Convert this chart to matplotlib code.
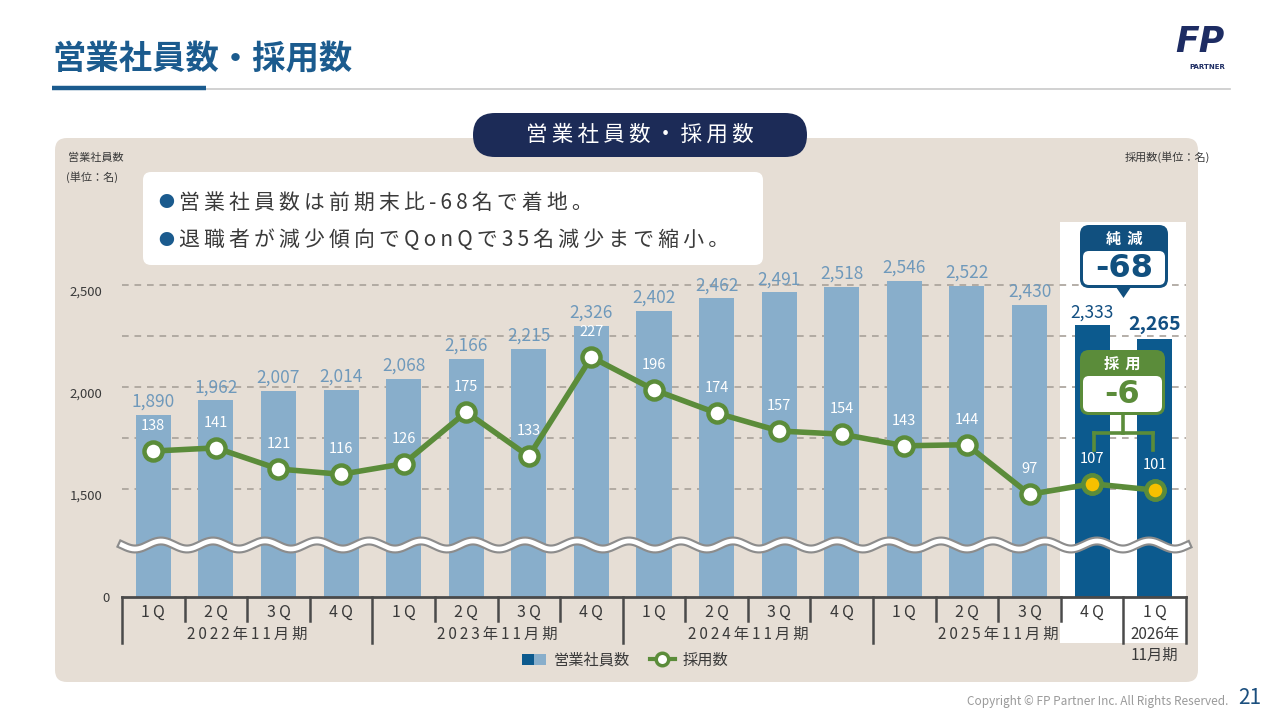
import matplotlib
matplotlib.use("Agg")
import matplotlib.pyplot as plt
import matplotlib.transforms as mtransforms
from matplotlib.patches import FancyBboxPatch, Rectangle, Polygon, Patch
from matplotlib.lines import Line2D
from matplotlib.legend_handler import HandlerTuple
import numpy as np

plt.rcParams['font.family'] = ['Noto Sans CJK JP', 'DejaVu Sans']

# ---------------- data ----------------
employees = [1890, 1962, 2007, 2014, 2068, 2166, 2215, 2326, 2402, 2462, 2491,
             2518, 2546, 2522, 2430, 2333, 2265]
hires = [138, 141, 121, 116, 126, 175, 133, 227, 196, 174, 157, 154, 143, 144,
         97, 107, 101]
quarters = ['1Q', '2Q', '3Q', '4Q', '1Q', '2Q', '3Q', '4Q', '1Q', '2Q', '3Q',
            '4Q', '1Q', '2Q', '3Q', '4Q', '1Q']
fiscal_years = ['2022年11月期', '2023年11月期', '2024年11月期', '2025年11月期']
fy_groups = [(0, 3), (4, 7), (8, 11), (12, 15)]
last_fy = ['2026年', '11月期']
yticks = [1500, 2000, 2500]
ytick_labels = ['1,500', '2,000', '2,500']
grid_vals = [1500, 1750, 2000, 2250, 2500]
bullets = ['営業社員数は前期末比-68名で着地。',
           '退職者が減少傾向でQonQで35名減少まで縮小。']
net_change = '-68'
hire_change = '-6'
n_highlight = 2

# ---------------- colours ----------------
BG = '#e6ded5'
LIGHT = '#88aecb'
DARK = '#0c5a8e'
NAVY = '#1c2b57'
GREEN = '#5b8c3a'
YELLOW = '#f6c000'
TITLE = '#1b5b8e'
VAL = '#6f99bb'
TXT = '#3a3a3a'
CALLNAVY = '#11507f'

fig = plt.figure(figsize=(12.8, 7.2), dpi=100)
fig.patch.set_facecolor('white')


def X(px):
    return px / 1280


def Y(py):
    return 1 - py / 720


def sp(s):
    return '\u2009'.join(s)


def overlay(z):
    a = fig.add_axes([0, 0, 1, 1], zorder=z)
    a.set_xlim(0, 1280)
    a.set_ylim(720, 0)
    a.axis('off')
    a.set_facecolor('none')
    return a


bg = overlay(-5)
fg = overlay(10)

# ---------------- header ----------------
bg.text(52, 60, '営業社員数・採用数', fontsize=24, fontweight='bold',
        color=TITLE, va='center', ha='left')
bg.plot([205, 1230], [88.5, 88.5], color='#c9c9c9', lw=1.2)
bg.plot([52, 206], [88, 88], color=TITLE, lw=3.2, solid_capstyle='butt')
# logo
bg.text(1200, 42, 'FP', fontsize=25, fontweight='bold', fontstyle='italic',
        color='#1d2c63', ha='center', va='center', family='DejaVu Sans')
bg.text(1207, 67, 'PARTNER', fontsize=5, fontweight='bold',
        color='#1d2c63', ha='center', va='center', family='DejaVu Sans')

# ---------------- panel ----------------
bg.add_patch(FancyBboxPatch((55, 138), 1198 - 55, 682 - 138,
                            boxstyle='round,pad=0,rounding_size=12',
                            facecolor=BG, edgecolor='none', zorder=0))
bg.add_patch(Rectangle((1060, 222), 1186 - 1060, 643 - 222,
                       facecolor='white', edgecolor='none', zorder=1))

# pill title
bg.add_patch(FancyBboxPatch((473, 113), 807 - 473, 157 - 113,
                            boxstyle='round,pad=0,rounding_size=22',
                            facecolor=NAVY, edgecolor='none', zorder=2))
bg.text(640, 135, sp('営業社員数・採用数'), fontsize=15.5, color='white',
        ha='center', va='center', zorder=3)

bg.text(68, 158, '営業社員数', fontsize=8, color=TXT, ha='left', va='center')
bg.text(66, 177, '(単位：名)', fontsize=8, color=TXT, ha='left', va='center')
bg.text(1210, 157, '採用数(単位：名)', fontsize=8, color=TXT, ha='right', va='center')

# bullet box
bg.add_patch(FancyBboxPatch((143, 172), 763 - 143, 265 - 172,
                            boxstyle='round,pad=0,rounding_size=8',
                            facecolor='white', edgecolor='none', zorder=2))
for i, b in enumerate(bullets):
    yy = 203 + i * 37
    bg.text(158, yy, '●', fontsize=11.5, color=TITLE, ha='left', va='center', zorder=3)
    bg.text(179, yy, sp(b), fontsize=15, color=TXT, ha='left', va='center', zorder=3)

# ---------------- axes ----------------
n = len(employees)
x = np.arange(n)
ax = fig.add_axes([X(122), Y(545), X(1186) - X(122), (545 - 222) / 720], zorder=0)
axb = fig.add_axes([X(122), Y(597), X(1186) - X(122), (597 - 545) / 720], zorder=0)
for a in (ax, axb):
    a.set_facecolor('none')
    a.set_xlim(-0.5, n - 0.5)
    for s in a.spines.values():
        s.set_visible(False)
    a.set_xticks([])

ax.set_ylim(1253, 2836)
axb.set_ylim(0, 100)

colors = [LIGHT] * (n - n_highlight) + [DARK] * n_highlight
ax.bar(x, employees, width=0.56, color=colors, zorder=2)
axb.bar(x, employees, width=0.56, color=colors, zorder=2)

gtrans = mtransforms.offset_copy(ax.get_yaxis_transform(), x=0, y=6, units='dots')
for v in grid_vals:
    ax.plot([0, 1], [v, v], transform=gtrans, color='#a8a199', lw=1.2,
            dashes=(4, 3.5), zorder=1)

ax.set_yticks(yticks)
ax.set_yticklabels(ytick_labels, fontsize=9.5, color=TXT)
ax.tick_params(axis='y', length=0, pad=14)
axb.set_yticks([0])
axb.set_yticklabels(['0'], fontsize=9.5, color=TXT)
axb.tick_params(axis='y', length=0, pad=9)

for i, v in enumerate(employees):
    if i == n - 1:
        ax.annotate(f'{v:,}', (i, v), xytext=(0, 3), textcoords='offset points',
                    ha='center', va='bottom', fontsize=14, fontweight='bold', color='#124f82')
    elif i >= n - n_highlight:
        ax.annotate(f'{v:,}', (i, v), xytext=(0, 2), textcoords='offset points',
                    ha='center', va='bottom', fontsize=12.5, color='#124f82')
    else:
        ax.annotate(f'{v:,}', (i, v), xytext=(0, 3), textcoords='offset points',
                    ha='center', va='bottom', fontsize=12.5, color=VAL)

# hires line
ax2 = ax.twinx()
ax2.set_ylim(49, 355)
ax2.set_facecolor('none')
for s in ax2.spines.values():
    s.set_visible(False)
ax2.set_yticks([])
ax2.plot(x, hires, color=GREEN, lw=4, marker='o', ms=13, mfc='white', mec=GREEN,
         mew=3.2, zorder=3)
ax2.plot(x[-n_highlight:], hires[-n_highlight:], ls='none', marker='o', ms=13,
         mfc=YELLOW, mec=GREEN, mew=3.2, zorder=4)
for i, v in enumerate(hires):
    ax2.annotate(str(v), (i, v), xytext=(0, 18), textcoords='offset points',
                 ha='center', va='center', fontsize=10.5, color='white')

# x axis
axb.axhline(0, color='#4a4a4a', lw=2, zorder=5, clip_on=False)
btrans = mtransforms.blended_transform_factory(axb.transData, fig.transFigure)
long_idx = {0, 4, 8, 12, 16, 17}
for i in range(n + 1):
    bottom = 643 if i in long_idx else 621
    axb.plot([i - 0.5, i - 0.5], [Y(597), Y(bottom)], transform=btrans,
             color='#4a4a4a', lw=1.8, clip_on=False)
for i, q in enumerate(quarters):
    axb.text(i, Y(612), sp(q), transform=btrans, ha='center', va='center',
             fontsize=11.5, color=TXT)
for lab, (a0, a1) in zip(fiscal_years, fy_groups):
    axb.text((a0 + a1) / 2, Y(634), sp(lab), transform=btrans, ha='center',
             va='center', fontsize=11, color=TXT)
axb.text(n - 1, Y(634), last_fy[0], transform=btrans, ha='center', va='center',
         fontsize=11, color=TXT)
axb.text(n - 1, Y(655), last_fy[1], transform=btrans, ha='center', va='center',
         fontsize=11, color=TXT)

# wave break
wx = np.linspace(122, 1187, 500)
wy = 545 + 4 * np.sin(2 * np.pi * (wx - 122) / 52)
fg.plot(wx, wy, color='#8c8c8c', lw=6.5, zorder=1)
fg.plot(wx, wy, color='white', lw=3.4, zorder=1.1)


# ---------------- callouts ----------------
def callout(x0, x1, y0, ymid, y1, color, head, value):
    fg.add_patch(FancyBboxPatch((x0, y0), x1 - x0, y1 - y0,
                                boxstyle='round,pad=0,rounding_size=9',
                                facecolor=color, edgecolor='none', zorder=3))
    fg.add_patch(FancyBboxPatch((x0 + 3, ymid), x1 - x0 - 6, y1 - 3 - ymid,
                                boxstyle='round,pad=0,rounding_size=6',
                                facecolor='white', edgecolor='none', zorder=3.1))
    cx = (x0 + x1) / 2
    fg.text(cx, (y0 + ymid) / 2 + 0.5, head, fontsize=11, fontweight='bold',
            color='white', ha='center', va='center', zorder=4)
    fg.text(cx, (ymid + y1) / 2 - 1, value, fontsize=23, fontweight='bold',
            color=color, ha='center', va='center', zorder=4, family='DejaVu Sans')


callout(1080, 1168, 225, 251, 288, CALLNAVY, '純\u2009\u2009減', net_change)
fg.add_patch(Polygon([[1116, 287], [1131, 287], [1123.5, 298]], closed=True,
                     facecolor=CALLNAVY, edgecolor='none', zorder=3))
callout(1080, 1165, 350, 376, 415, GREEN, '採\u2009\u2009用', hire_change)
for (xa, ya), (xb, yb) in ([(1122.5, 415), (1122.5, 433)], [(1094, 433), (1153, 433)],
                           [(1094, 433), (1094, 450)], [(1153, 433), (1153, 450)]):
    fg.plot([xa, xb], [ya, yb], color=GREEN, lw=2.6, zorder=3,
            solid_capstyle='projecting')

# ---------------- legend ----------------
h1 = (Patch(facecolor=DARK, edgecolor='none'), Patch(facecolor=LIGHT, edgecolor='none'))
h2 = Line2D([], [], color=GREEN, lw=3, marker='o', ms=9, mfc='white', mec=GREEN, mew=2.5)
fig.legend([h1, h2], ['営業社員数', '採用数'], loc='center',
           bbox_to_anchor=(X(625), Y(660)), ncol=2, frameon=False, fontsize=11,
           handlelength=1.6, handleheight=0.75, columnspacing=1.3, handletextpad=0.5,
           handler_map={tuple: HandlerTuple(ndivide=None, pad=0)}, labelcolor=TXT)

# ---------------- footer ----------------
bg.text(1228, 701, 'Copyright © FP Partner Inc. All Rights Reserved.',
        fontsize=8.5, color='#9a9a9a', ha='right', va='center')
bg.text(1238, 698, '21', fontsize=15, color='#1b4f7e', ha='left', va='center')

fig.savefig('out.png', dpi=100, facecolor='white')
